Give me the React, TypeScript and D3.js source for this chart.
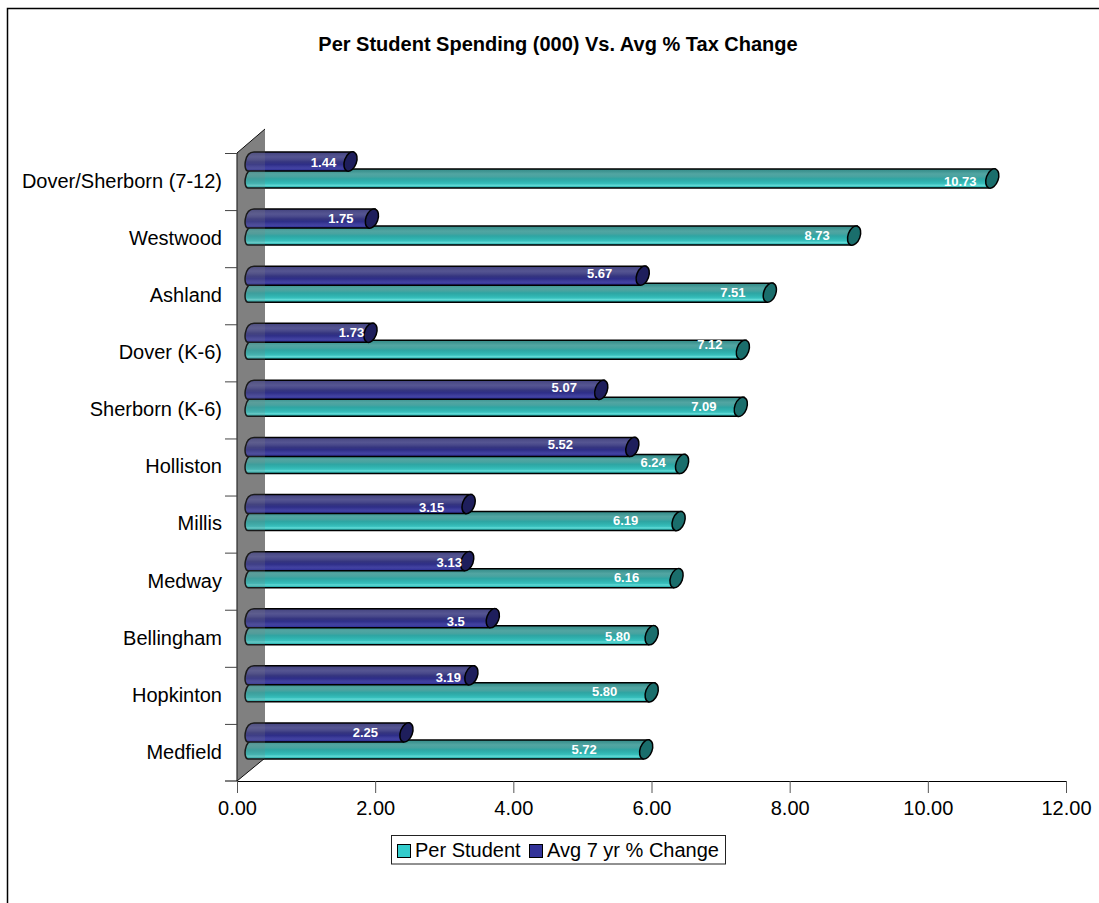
import React, { useEffect, useRef } from 'react'
import * as d3 from 'd3'

const towns = ['Dover/Sherborn (7-12)', 'Westwood', 'Ashland', 'Dover (K-6)', 'Sherborn (K-6)', 'Holliston', 'Millis', 'Medway', 'Bellingham', 'Hopkinton', 'Medfield']
const perStudent = [10.73, 8.73, 7.51, 7.12, 7.09, 6.24, 6.19, 6.16, 5.80, 5.80, 5.72]
const avgChange = [1.44, 1.75, 5.67, 1.73, 5.07, 5.52, 3.15, 3.13, 3.5, 3.19, 2.25]
const xTicks = [0, 2, 4, 6, 8, 10, 12]

// excel nudged the data labels by hand: px left of the bar end, px below bar centre
const perStudentNudgeX = [32, 37, 37, 33, 37, 29, 53, 50, 34, 47, 62]
const perStudentNudgeY = [2.5, 0, 0, -5, 0, -1, -1, -1, 1, -1, 0]
const avgNudgeX = [27, 31, 43, 19, 37, 72, 37, 18, 37, 23, 41]
const avgNudgeY = [0.5, 0, -2, 0, -2, -2, 3, 1, 3, 2, 0]

const FONT = '"Liberation Sans", Arial, sans-serif'
const depth = 14

const tealStops = [[0, '#358a88'], [0.12, '#3f9592'], [0.26, '#52a5a2'], [0.4, '#48a3a0'], [0.52, '#2ea5a3'], [0.66, '#30b2af'], [0.78, '#38c0bd'], [0.86, '#62dad6'], [0.94, '#30b8b5'], [1, '#249c9a']]
const navyStops = [[0, '#40407f'], [0.12, '#4c4c88'], [0.26, '#555592'], [0.4, '#48488a'], [0.52, '#35357f'], [0.66, '#2e2e88'], [0.78, '#3d3d9a'], [0.86, '#4242a2'], [0.94, '#333399'], [1, '#29297c']]

export default function App() {
  const ref = useRef<SVGSVGElement | null>(null)

  useEffect(() => {
    const svg = d3.select(ref.current)
    svg.selectAll('*').remove()

    const x = d3.scaleLinear().domain([0, 12]).range([237, 1066])
    const y = d3.scaleBand().domain(towns).range([153, 781])
    const sub = d3.scaleBand().domain(['avg', 'per']).range([-1, 33]).padding(0)

    const defs = svg.append('defs')
    const addGrad = (id: string, stops: any[]) => {
      defs.append('linearGradient').attr('id', id)
        .attr('x1', 0).attr('y1', 0).attr('x2', 0).attr('y2', 1)
        .selectAll('stop').data(stops).join('stop')
        .attr('offset', d => d[0]).attr('stop-color', d => d[1])
    }
    addGrad('teal', tealStops)
    addGrad('navy', navyStops)

    // chart frame, runs off the right and bottom of the picture
    svg.append('path').attr('d', 'M7.5,903V8.5H1099').attr('fill', 'none').attr('stroke', '#000').attr('stroke-width', 1.5)

    svg.append('text').attr('x', 558).attr('y', 51).attr('text-anchor', 'middle')
      .attr('font-family', FONT).attr('font-size', 20).attr('font-weight', 'bold').text('Per Student Spending (000) Vs. Avg % Tax Change')

    // side wall
    const wallPath = `M${x(0)},153L${x(0) + 28},129V758L${x(0)},781Z`
    svg.append('path').attr('d', wallPath).attr('fill', '#808080')
    svg.append('path').attr('d', `M${x(0) + 28},129L${x(0)},153V781L${x(0) + 28},758`).attr('fill', 'none').attr('stroke', '#000')

    // axes
    const xAxis = d3.axisBottom(x).tickValues(xTicks).tickFormat(d3.format('.2f') as any).tickSize(12).tickSizeOuter(0).tickPadding(8)
    const gx = svg.append('g').attr('transform', 'translate(0,781)').call(xAxis)
    gx.select('.domain').attr('stroke', '#000')
    gx.selectAll('.tick line').attr('stroke', '#555')
    gx.selectAll('text').attr('font-family', FONT).attr('font-size', 20).attr('fill', '#000')

    svg.append('path').attr('d', 'M225,781H237').attr('stroke', '#000')
    const yAxis = d3.axisLeft(y).tickSize(0).tickPadding(15)
    const gy = svg.append('g').attr('transform', 'translate(237,0)').call(yAxis)
    gy.select('.domain').remove()
    gy.selectAll('text').attr('font-family', FONT).attr('font-size', 20).attr('fill', '#000')
    svg.append('g').selectAll('path').data(towns).join('path')
      .attr('d', d => `M225,${y(d)! + 0.5}H237`).attr('stroke', '#444')

    const rx = 6
    const ry = 9.5
    const drawSeries = (key: string, values: number[], nudgeX: number[], nudgeY: number[], fill: string, cap: string, fmt: (v: number) => string) => {
      const g = svg.append('g').attr('class', key)
      const rows = g.selectAll('g').data(values).join('g')
        .attr('transform', (_, i) => `translate(0,${y(towns[i])! + sub(key)! + ry})`)
      rows.append('path')
        .attr('d', v => {
          const x0 = x(0) + depth
          const x1 = x(v) + depth
          return `M${x0 + 3},${-ry}H${x1 + 3}L${x1 - 3},${ry}H${x0 - 3}C${x0 - 8},${ry} ${x0 - 7},${-ry} ${x0 + 3},${-ry}Z`
        })
        .attr('fill', `url(#${fill})`).attr('stroke', '#000').attr('stroke-width', 1.5)
      rows.append('ellipse')
        .attr('transform', v => `translate(${x(v) + depth},0) rotate(20)`)
        .attr('rx', rx).attr('ry', ry + 0.5)
        .attr('fill', cap).attr('stroke', '#000').attr('stroke-width', 1.5)
      rows.append('text')
        .attr('x', (v, i) => x(v) + depth - nudgeX[i]).attr('y', (_, i) => 4.5 + nudgeY[i])
        .attr('text-anchor', 'middle').attr('font-family', FONT).attr('font-size', 13).attr('font-weight', 'bold')
        .attr('fill', '#fff').text(v => fmt(v))
    }
    drawSeries('per', perStudent, perStudentNudgeX, perStudentNudgeY, 'teal', '#1a6e6c', d3.format('.2f'))
    drawSeries('avg', avgChange, avgNudgeX, avgNudgeY, 'navy', '#1e1e5c', v => String(v))

    // wall sits in front of the bars, slightly see through
    svg.append('path').attr('d', wallPath).attr('fill', '#808080').attr('fill-opacity', 0.2)

    // legend
    const lg = svg.append('g')
    lg.append('rect').attr('x', 391.5).attr('y', 835.5).attr('width', 334).attr('height', 28.5).attr('fill', '#fff').attr('stroke', '#222')
    const items = [['Per Student', '#33cccc', 397, 415], ['Avg 7 yr % Change', '#333399', 529, 547]] as const
    items.forEach(([label, color, sx, tx]) => {
      lg.append('rect').attr('x', sx + 0.5).attr('y', 844.5).attr('width', 13).attr('height', 13).attr('fill', color).attr('stroke', '#000')
      lg.append('text').attr('x', tx).attr('y', 857).attr('font-family', FONT).attr('font-size', 20).text(label)
    })
  }, [])

  return <svg ref={ref} width={1099} height={903} style={{ position: 'absolute', left: 0, top: 0, display: 'block', background: '#fff' }} />
}
